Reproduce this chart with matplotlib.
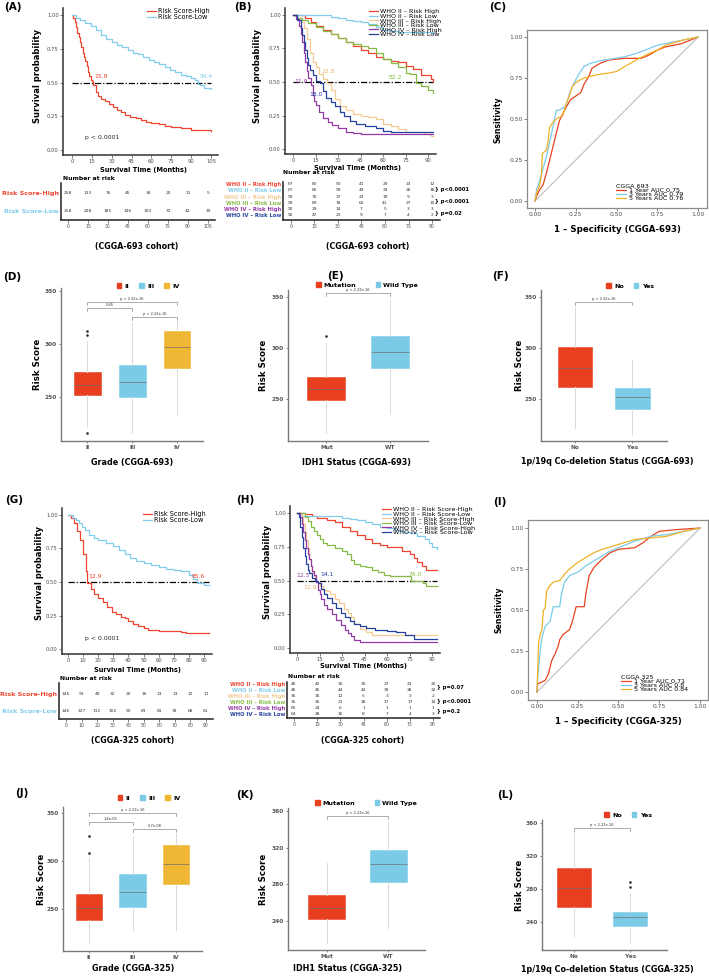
import numpy as np
import matplotlib
matplotlib.use('Agg')
from matplotlib import pyplot as plt
from matplotlib.lines import Line2D
from matplotlib.patches import Patch

plt.rcParams['font.family'] = ['DejaVu Sans']

W, H = 709, 977

RED = '#EE4530'
SKY = '#82CDEC'
TAN = '#F4CB93'
GREEN = '#86BC46'
PURPLE = '#9439A6'
NAVY = '#25409E'
BOX_RED = '#E8401E'
BOX_BLUE = '#7BCBE7'
BOX_YEL = '#EFB733'
ROC_RED = '#E8431F'
ROC_BLUE = '#79CBEA'
ROC_ORANGE = '#F0B126'

# ---------------- (A) KM, CGGA-693
A_HIGH_T = [0, 1, 2, 3, 4, 5, 6, 7, 8, 9, 10, 11, 12, 13, 14, 15, 16, 18, 20, 22, 25, 28, 31, 34, 37, 40,
            44, 48, 52, 56, 60, 66, 70, 75, 82, 88, 90, 96, 105]
A_HIGH_S = [1, 0.98, 0.95, 0.91, 0.87, 0.84, 0.80, 0.76, 0.72, 0.69, 0.66, 0.62, 0.58, 0.55, 0.52, 0.51, 0.48,
            0.43, 0.40, 0.38, 0.36, 0.34, 0.32, 0.30, 0.28, 0.26, 0.245, 0.235, 0.22, 0.21, 0.20, 0.19, 0.18,
            0.17, 0.165, 0.16, 0.15, 0.145, 0.14]
A_LOW_T = [0, 3, 6, 10, 14, 18, 22, 26, 30, 34, 38, 42, 46, 50, 54, 58, 62, 66, 70, 74, 78, 82, 86, 90, 93,
           95, 97, 100, 105]
A_LOW_S = [1, 0.98, 0.96, 0.94, 0.915, 0.89, 0.85, 0.82, 0.80, 0.78, 0.76, 0.74, 0.72, 0.71, 0.69, 0.67,
           0.655, 0.635, 0.615, 0.595, 0.575, 0.555, 0.545, 0.53, 0.515, 0.49, 0.48, 0.46, 0.455]
A_TABLE_X = [0, 15, 30, 45, 60, 75, 90, 105]
A_RISK_HIGH = [258, 133, 76, 45, 34, 20, 11, 5]
A_RISK_LOW = [258, 228, 185, 146, 100, 72, 42, 19]

# ---------------- (B) KM by WHO grade, CGGA-693
B_IIH_T = [0, 5, 8, 12, 15, 20, 25, 30, 35, 40, 45, 50, 55, 60, 65, 70, 75, 80, 85, 92, 93]
B_IIH_S = [1, 1.0, 0.98, 0.95, 0.92, 0.89, 0.86, 0.83, 0.80, 0.77, 0.74, 0.72, 0.69, 0.67, 0.66, 0.65, 0.62,
           0.60, 0.55, 0.52, 0.50]
B_IIL_T = [0, 20, 25, 30, 35, 40, 45, 50, 55, 60, 65, 70, 80, 93]
B_IIL_S = [1, 1, 0.985, 0.975, 0.965, 0.955, 0.945, 0.93, 0.91, 0.89, 0.88, 0.875, 0.87, 0.86]
B_IIIH_T = [0, 3, 5, 7, 9, 11, 13, 15, 17, 20, 22.8, 25, 28, 31, 35, 40, 45, 50, 55, 60, 65, 70, 75, 80, 88,
            92, 93.5]
B_IIIH_S = [1, 0.98, 0.95, 0.90, 0.82, 0.72, 0.65, 0.61, 0.56, 0.52, 0.49, 0.44, 0.37, 0.32, 0.29, 0.26,
            0.245, 0.24, 0.225, 0.19, 0.17, 0.15, 0.13, 0.125, 0.115, 0.10, 0.10]
B_IIIL_T = [0, 3, 6, 10, 15, 20, 25, 30, 35, 40, 45, 50, 55, 60, 65, 70, 75, 78, 82.2, 85, 90, 93]
B_IIIL_S = [1, 0.98, 0.96, 0.94, 0.91, 0.88, 0.86, 0.83, 0.80, 0.78, 0.77, 0.75, 0.72, 0.67, 0.64, 0.61,
            0.57, 0.56, 0.49, 0.47, 0.44, 0.42]
B_IVH_T = [0, 2, 4, 5, 6, 7, 8, 9, 10, 11.9, 13, 14, 15, 17, 20, 23, 26, 30, 35, 40, 45, 93]
B_IVH_S = [1, 0.97, 0.92, 0.86, 0.80, 0.72, 0.65, 0.58, 0.53, 0.48, 0.40, 0.36, 0.33, 0.28, 0.23, 0.20,
           0.18, 0.16, 0.13, 0.12, 0.11, 0.11]
B_IVL_T = [0, 3, 5, 6, 7, 8, 9, 10, 11, 13, 15, 18, 20, 22, 25, 28, 31, 34, 38, 42, 48, 55, 60, 65, 93]
B_IVL_S = [1, 0.96, 0.90, 0.85, 0.80, 0.74, 0.68, 0.63, 0.59, 0.55, 0.51, 0.49, 0.43, 0.38, 0.35, 0.32,
           0.28, 0.25, 0.21, 0.19, 0.17, 0.155, 0.135, 0.13, 0.13]
B_TABLE_X = [0, 15, 30, 45, 60, 75, 90]
B_RISK = [[67, 60, 50, 41, 29, 23, 12],
          [67, 66, 59, 49, 33, 26, 18],
          [99, 70, 37, 23, 19, 9, 3],
          [99, 89, 78, 62, 41, 27, 15],
          [92, 29, 14, 7, 5, 3, 3],
          [92, 47, 23, 9, 7, 4, 2]]
B_LEGEND = ['WHO II \u2013 Risk High', 'WHO II \u2013 Risk Low', 'WHO III \u2013 Risk High',
            'WHO III \u2013 Risk Low', 'WHO IV \u2013 Risk High', 'WHO IV \u2013 Risk Low']
B_PVALS = ['} p<0.0001', '} p<0.0001', '} p=0.02']

# ---------------- (C) ROC, CGGA-693
C1_FPR = [0, 0.01, 0.03, 0.05, 0.07, 0.09, 0.11, 0.13, 0.15, 0.17, 0.19, 0.22, 0.25, 0.28, 0.30, 0.33, 0.35,
          0.40, 0.45, 0.55, 0.65, 0.70, 0.75, 0.80, 0.85, 0.90, 1]
C1_TPR = [0, 0.03, 0.07, 0.10, 0.17, 0.25, 0.33, 0.41, 0.49, 0.53, 0.57, 0.62, 0.64, 0.66, 0.71, 0.76, 0.81,
          0.84, 0.86, 0.87, 0.87, 0.89, 0.92, 0.94, 0.95, 0.96, 1]
C3_FPR = [0, 0.01, 0.03, 0.05, 0.07, 0.09, 0.11, 0.13, 0.16, 0.19, 0.21, 0.23, 0.25, 0.28, 0.30, 0.34, 0.40,
          0.46, 0.55, 0.62, 0.70, 0.75, 0.85, 0.95, 1]
C3_TPR = [0, 0.07, 0.13, 0.20, 0.27, 0.36, 0.45, 0.55, 0.56, 0.58, 0.65, 0.70, 0.74, 0.79, 0.82, 0.84, 0.855,
          0.865, 0.88, 0.90, 0.93, 0.95, 0.97, 0.99, 1]
C5_FPR = [0, 0.01, 0.03, 0.04, 0.045, 0.07, 0.08, 0.09, 0.11, 0.13, 0.17, 0.19, 0.21, 0.23, 0.26, 0.30, 0.38,
          0.45, 0.50, 0.55, 0.62, 0.70, 0.75, 0.80, 0.90, 1]
C5_TPR = [0, 0.05, 0.10, 0.16, 0.29, 0.31, 0.36, 0.45, 0.48, 0.50, 0.52, 0.59, 0.64, 0.70, 0.73, 0.75, 0.77,
          0.78, 0.79, 0.82, 0.86, 0.90, 0.92, 0.95, 0.98, 1]
C_LABELS = ['1 Year AUC 0.75', '3 Years AUC 0.79', '5 Years AUC 0.76']

# ---------------- (D)-(F) boxplots, CGGA-693
D_Q1 = [251.9, 250, 277]
D_MED = [261.3, 264, 297]
D_Q3 = [273.6, 280, 312]
D_LO = [221.7, 216, 233]
D_HI = [303, 320, 322]
D_OUT = [[312, 308.5, 216], [], []]
E_Q1 = [249, 280.4]
E_MED = [259.8, 296]
E_Q3 = [271.6, 311.8]
E_LO = [216.7, 235]
E_HI = [305, 347]
E_OUT = [[311.8], []]
F_Q1 = [261.8, 240.2]
F_MED = [280.4, 252]
F_Q3 = [301, 260.8]
F_LO = [221.6, 214.7]
F_HI = [340, 288]
F_OUT = [[], []]

# ---------------- (G) KM, CGGA-325
G_HIGH_T = [0, 2, 4, 6, 8, 10, 12, 12.9, 15, 17, 20, 23, 26, 29, 32, 35, 38, 40, 43, 46, 50, 53, 60, 75, 78,
            93.5]
G_HIGH_S = [1, 0.98, 0.94, 0.88, 0.81, 0.71, 0.58, 0.49, 0.45, 0.41, 0.38, 0.35, 0.31, 0.28, 0.26, 0.24,
            0.23, 0.21, 0.19, 0.17, 0.16, 0.14, 0.135, 0.13, 0.12, 0.12]
G_LOW_T = [0, 3, 5, 7, 9, 11, 14, 17, 20, 25, 30, 34, 38, 41, 45, 50, 55, 60, 65, 70, 75, 80, 83, 85.6, 90,
           93.5]
G_LOW_S = [1, 0.98, 0.96, 0.94, 0.91, 0.89, 0.85, 0.83, 0.81, 0.79, 0.77, 0.74, 0.71, 0.68, 0.66, 0.64,
           0.625, 0.615, 0.60, 0.59, 0.58, 0.55, 0.52, 0.49, 0.48, 0.48]
G_TABLE_X = [0, 10, 20, 30, 40, 50, 60, 70, 80, 90]
G_RISK_HIGH = [145, 91, 49, 32, 20, 16, 13, 13, 12, 11]
G_RISK_LOW = [146, 127, 112, 102, 90, 83, 81, 78, 68, 61]

# ---------------- (H) KM by WHO grade, CGGA-325
H_IIH_T = [0, 5, 10, 13, 20, 25, 30, 35, 40, 45, 50, 55, 60, 66, 70, 75, 78, 80, 83, 86, 93]
H_IIH_S = [1, 0.99, 0.98, 0.96, 0.95, 0.93, 0.90, 0.87, 0.84, 0.81, 0.78, 0.76, 0.75, 0.75, 0.72, 0.70,
           0.67, 0.64, 0.61, 0.58, 0.58]
H_IIL_T = [0, 3, 20, 25, 30, 35, 40, 45, 50, 55, 60, 65, 70, 75, 80, 85, 88, 90, 93]
H_IIL_S = [1, 0.98, 0.98, 0.975, 0.96, 0.955, 0.945, 0.93, 0.915, 0.90, 0.89, 0.875, 0.86, 0.85, 0.83,
           0.81, 0.78, 0.75, 0.73]
H_IIIH_T = [0, 2, 3, 4, 5, 6, 7, 8, 9, 10, 11, 12.9, 15, 17, 20, 22, 25, 28, 31, 34, 36, 38, 42, 46, 50, 93]
H_IIIH_S = [1, 0.99, 0.97, 0.92, 0.86, 0.80, 0.74, 0.66, 0.61, 0.56, 0.53, 0.49, 0.46, 0.43, 0.42, 0.40,
            0.36, 0.33, 0.29, 0.26, 0.23, 0.18, 0.14, 0.12, 0.10, 0.095]
H_IIIL_T = [0, 4, 5, 7, 9, 11, 13, 15, 17, 20, 25, 30, 33, 36, 38, 42, 46, 50, 54, 58, 62, 76, 84, 86, 93]
H_IIIL_S = [1, 1.0, 0.97, 0.94, 0.90, 0.87, 0.84, 0.81, 0.78, 0.76, 0.74, 0.72, 0.70, 0.65, 0.62, 0.61,
            0.60, 0.58, 0.56, 0.54, 0.53, 0.50, 0.48, 0.46, 0.46]
H_IVH_T = [0, 2, 3, 4, 5, 6, 7, 8, 9, 10, 11, 12.5, 14, 15, 16, 18, 20, 23, 26, 29, 32, 34, 36, 38, 42, 93]
H_IVH_S = [1, 0.97, 0.92, 0.86, 0.80, 0.74, 0.70, 0.66, 0.61, 0.57, 0.54, 0.49, 0.43, 0.40, 0.36, 0.32,
           0.29, 0.25, 0.21, 0.17, 0.13, 0.11, 0.09, 0.06, 0.045, 0.045]
H_IVL_T = [0, 1, 2, 3, 4, 5, 6, 7, 8, 10, 12, 14.1, 16, 18, 20, 23, 26, 29, 32, 35, 38, 42, 46, 52, 60, 66,
           72, 78, 93]
H_IVL_S = [1, 0.97, 0.90, 0.82, 0.74, 0.68, 0.62, 0.58, 0.555, 0.52, 0.50, 0.48, 0.44, 0.40, 0.37, 0.33,
           0.30, 0.26, 0.23, 0.20, 0.18, 0.16, 0.15, 0.13, 0.125, 0.12, 0.10, 0.07, 0.065]
H_TABLE_X = [0, 15, 30, 45, 60, 75, 90]
H_RISK = [[46, 42, 35, 30, 27, 23, 20],
          [46, 45, 44, 42, 39, 38, 32],
          [35, 16, 12, 5, 3, 3, 2],
          [35, 26, 21, 18, 17, 17, 14],
          [65, 24, 6, 1, 1, 1, 1],
          [64, 28, 16, 8, 7, 4, 3]]
H_LEGEND = ['WHO II \u2013 Risk Score-High', 'WHO II \u2013 Risk Score-Low', 'WHO III \u2013 Risk Score-High',
            'WHO III \u2013 Risk Score-Low', 'WHO IV \u2013 Risk Score-High', 'WHO IV \u2013 Risk Score-Low']
H_ROWS = ['WHO II \u2013 Risk High', 'WHO II \u2013 Risk Low', 'WHO III \u2013 Risk High',
          'WHO III \u2013 Risk Low', 'WHO IV \u2013 Risk High', 'WHO IV \u2013 Risk Low']
H_PVALS = ['} p=0.07', '} p<0.0001', '} p=0.2']

# ---------------- (I) ROC, CGGA-325
I1_FPR = [0, 0.005, 0.05, 0.07, 0.09, 0.11, 0.13, 0.14, 0.16, 0.20, 0.22, 0.24, 0.29, 0.30, 0.32, 0.35, 0.40,
          0.45, 0.50, 0.60, 0.65, 0.70, 0.75, 0.85, 1]
I1_TPR = [0, 0.05, 0.07, 0.11, 0.19, 0.23, 0.28, 0.32, 0.35, 0.38, 0.44, 0.52, 0.52, 0.60, 0.71, 0.76, 0.81,
          0.85, 0.87, 0.88, 0.91, 0.95, 0.98, 0.99, 1]
I3_FPR = [0, 0.005, 0.02, 0.03, 0.05, 0.08, 0.10, 0.14, 0.15, 0.17, 0.20, 0.25, 0.30, 0.35, 0.40, 0.45, 0.50,
          0.60, 0.70, 0.80, 0.90, 1]
I3_TPR = [0, 0.09, 0.25, 0.33, 0.40, 0.43, 0.52, 0.52, 0.60, 0.67, 0.71, 0.73, 0.77, 0.80, 0.83, 0.86, 0.88,
          0.92, 0.95, 0.96, 0.98, 1]
I5_FPR = [0, 0.005, 0.01, 0.02, 0.03, 0.04, 0.05, 0.06, 0.08, 0.10, 0.14, 0.17, 0.20, 0.25, 0.30, 0.35, 0.40,
          0.50, 0.60, 0.70, 0.80, 0.90, 1]
I5_TPR = [0, 0.15, 0.30, 0.35, 0.38, 0.50, 0.51, 0.62, 0.65, 0.67, 0.68, 0.72, 0.75, 0.79, 0.82, 0.85, 0.87,
          0.90, 0.93, 0.94, 0.95, 0.98, 1]
I_LABELS = ['1 Year AUC 0.71', '3 Years AUC 0.8', '5 Years AUC 0.84']

# ---------------- (J)-(L) boxplots, CGGA-325
J_Q1 = [239.2, 252.6, 276.3]
J_MED = [251.5, 268, 297]
J_Q3 = [266, 286.6, 316.5]
J_LO = [215.5, 229, 229]
J_HI = [303, 325, 328]
J_OUT = [[325.8, 308], [], []]
K_Q1 = [241.6, 282.2]
K_MED = [253.7, 302]
K_Q3 = [268, 317.3]
K_LO = [215.3, 231.8]
K_HI = [303, 348]
K_OUT = [[], []]
L_Q1 = [258.2, 235.2]
L_MED = [281.2, 246]
L_Q3 = [305.5, 252]
L_LO = [223, 214.5]
L_HI = [350, 275]
L_OUT = [[], [288.5, 282.4]]


fig = plt.figure(figsize=(W / 100, H / 100), dpi=100)


def fx(x):
    return x / W


def fy(y):
    return 1 - y / H


def add_ax(l, t, r, b):
    return fig.add_axes([fx(l), fy(b), (r - l) / W, (b - t) / H])


def ftext(x, y, s, **kw):
    kw.setdefault('ha', 'center')
    kw.setdefault('va', 'center')
    fig.text(fx(x), fy(y), s, **kw)


def place_labels(ax, xlab_pos, ylab_pos):
    ax.xaxis.set_label_coords(fx(xlab_pos[0]), fy(xlab_pos[1]), transform=fig.transFigure)
    ax.yaxis.set_label_coords(fx(ylab_pos[0]), fy(ylab_pos[1]), transform=fig.transFigure)
    ax.xaxis.label.set_va('center')
    ax.yaxis.label.set_va('center')


def km_axes(rect, xlim, xticks, xend, curves, colors, xlab_pos, ylab_pos):
    ax = add_ax(*rect)
    for (t, s), c in zip(curves, colors):
        ax.step(t, s, where='post', color=c, lw=0.9)
    ax.set_xlim(*xlim)
    ax.set_ylim(-0.037, 1.052)
    ax.set_xticks(xticks)
    ax.set_yticks([0, 0.25, 0.5, 0.75, 1.0], ['0.00', '0.25', '0.50', '0.75', '1.00'])
    for side in ['top', 'right']:
        ax.spines[side].set_visible(False)
    for side in ['left', 'bottom']:
        ax.spines[side].set_linewidth(1.1)
        ax.spines[side].set_color('#333333')
    ax.tick_params(length=2, width=0.5, colors='#4D4D4D', labelsize=3.8, pad=1)
    ax.set_xlabel('Survival Time (Months)', fontsize=4.8, fontweight='bold')
    ax.set_ylabel('Survival probability', fontsize=6, fontweight='bold')
    place_labels(ax, xlab_pos, ylab_pos)
    ax.plot([0, xend], [0.5, 0.5], color='black', lw=0.9, ls=(0, (5, 1.5, 1, 1.5)), zorder=1)
    return ax


def km_legend(ax, colors, labels, x, y, size, spacing):
    handles = [Line2D([], [], color=c, lw=0.9) for c in colors]
    ax.legend(handles, labels, loc='upper left', bbox_to_anchor=(fx(x), fy(y)),
              bbox_transform=fig.transFigure, frameon=False, fontsize=size, handlelength=1.4,
              handletextpad=0.3, labelspacing=spacing, borderpad=0, borderaxespad=0)


def risk_table(rect, xlim, ylim, xticks, rows, labels, colors, label_size):
    ax = add_ax(*rect)
    for i, row in enumerate(rows):
        for t, n in zip(xticks, row):
            ax.text(t, i + 1, str(n), ha='center', va='center', fontsize=3.2, color='#333333')
    ax.set_xlim(*xlim)
    ax.set_ylim(*ylim)
    ax.set_xticks(xticks)
    ax.set_yticks(np.arange(1, len(rows) + 1), labels)
    for tl, c in zip(ax.get_yticklabels(), colors):
        tl.set_color(c)
        tl.set_fontweight('bold')
        tl.set_fontsize(label_size)
    ax.tick_params(axis='y', length=0, pad=1.5)
    ax.tick_params(axis='x', length=2, width=0.5, colors='#4D4D4D', labelsize=3.3, pad=1)
    for side in ['top', 'right']:
        ax.spines[side].set_visible(False)
    for side in ['left', 'bottom']:
        ax.spines[side].set_linewidth(1.1)
        ax.spines[side].set_color('#222222')
    return ax


def roc_axes(rect, xlim, ylim, curves, colors, labels, title, leg_xy, xlab, xlab_pos, ylab_pos):
    ax = add_ax(*rect)
    ax.plot([0, 1], [0, 1], color='#BDBDBD', lw=0.8, zorder=1)
    for (f, t), c, lab in zip(curves, colors, labels):
        ax.plot(f, t, color=c, lw=0.9, label=lab)
    ax.set_xlim(*xlim)
    ax.set_ylim(*ylim)
    ticks = [0, 0.25, 0.5, 0.75, 1.0]
    tl = ['0.00', '0.25', '0.50', '0.75', '1.00']
    ax.set_xticks(ticks, tl)
    ax.set_yticks(ticks, tl)
    for side in ax.spines.values():
        side.set_color('#8C8C8C')
        side.set_linewidth(0.9)
    ax.tick_params(length=2, width=0.5, colors='#4D4D4D', labelsize=4.3, pad=1)
    ax.set_xlabel(xlab, fontsize=6.2, fontweight='bold')
    ax.set_ylabel('Sensitivity', fontsize=5.6, fontweight='bold')
    place_labels(ax, xlab_pos, ylab_pos)
    ax.legend(title=title, loc='lower left', bbox_to_anchor=(fx(leg_xy[0]), fy(leg_xy[1])),
              bbox_transform=fig.transFigure, frameon=False, fontsize=4.6, title_fontsize=4.6,
              handlelength=1.6, handletextpad=0.4, labelspacing=-0.25, borderpad=0,
              borderaxespad=0, alignment='left')
    return ax


def box_axes(rect, xlim, ylim, yticks, q1, med, q3, lo, hi, out, colors, xticklabels,
             xlab, xlab_pos, ylab_x, brackets, drop):
    ax = add_ax(*rect)
    stats = []
    for a, m, b, w0, w1, o in zip(q1, med, q3, lo, hi, out):
        stats.append(dict(q1=a, med=m, q3=b, whislo=w0, whishi=w1, fliers=o))
    bp = ax.bxp(stats, positions=np.arange(1, len(stats) + 1), widths=0.6, patch_artist=True,
                showcaps=False,
                whiskerprops=dict(color='#D9D9D9', lw=0.7),
                medianprops=dict(color='#6E6E6E', lw=0.6, alpha=0.8),
                flierprops=dict(marker='o', markersize=0.9, markerfacecolor='#333333',
                                markeredgecolor='#333333'))
    for patch, c in zip(bp['boxes'], colors):
        patch.set_facecolor(c)
        patch.set_edgecolor(c)
        patch.set_linewidth(0.4)
    ax.set_xlim(*xlim)
    ax.set_ylim(*ylim)
    ax.set_yticks(yticks)
    ax.set_xticks(np.arange(1, len(stats) + 1), xticklabels)
    for lab in ax.get_xticklabels() + ax.get_yticklabels():
        lab.set_fontweight('bold')
    ax.tick_params(length=1.5, width=0.5, colors='#555555', labelsize=4.2, pad=1.5)
    for side in ['top', 'right']:
        ax.spines[side].set_visible(False)
    for side in ['left', 'bottom']:
        ax.spines[side].set_linewidth(1.0)
        ax.spines[side].set_color('#7A7A7A')
    ax.set_xlabel(xlab, fontsize=5.8, fontweight='bold')
    ax.set_ylabel('Risk Score', fontsize=6.2, fontweight='bold')
    place_labels(ax, xlab_pos, (ylab_x, (rect[1] + rect[3]) / 2))
    for i, j, y, lab in brackets:
        ax.plot([i, i, j, j], [y - drop, y, y, y - drop], color='#8C8C8C', lw=0.5, clip_on=False)
        ax.text((i + j) / 2, y + drop * 0.25, lab, ha='center', va='bottom', fontsize=2.6,
                color='#333333', clip_on=False)
    return ax


def box_legend(labels, colors, cx, cy, colsp):
    handles = [Patch(facecolor=c, edgecolor=c) for c in colors]
    fig.legend(handles, labels, loc='center', bbox_to_anchor=(fx(cx), fy(cy)), ncol=len(labels),
               frameon=False, prop=dict(size=4.6, weight='bold'), handlelength=0.7,
               handleheight=0.7, handletextpad=0.5, columnspacing=colsp, borderpad=0)


# ================= row 1 =================
axA = km_axes((63, 8, 218, 155), (-6.8, 110.3), A_TABLE_X, 105,
              [(A_HIGH_T, A_HIGH_S), (A_LOW_T, A_LOW_S)], [RED, SKY], (143, 170), (37, 76))
km_legend(axA, [RED, SKY], ['Risk Score-High', 'Risk Score-Low'], 147, 8, 4.7, 0.05)
axA.text(21.7, 0.545, '15.8', color=RED, fontsize=4.3, ha='center', va='center')
axA.text(101.2, 0.545, '94.4', color=SKY, fontsize=4.3, ha='center', va='center')
axA.text(22.7, 0.096, 'p < 0.0001', fontsize=4.4, ha='center', va='center', color='#222222')
risk_table((61, 183, 215, 220), (-5.25, 110.25), (2.5, 0.444), A_TABLE_X,
           [A_RISK_HIGH, A_RISK_LOW], ['Risk Score-High', 'Risk Score-Low'], [RED, SKY], 4.6)
ftext(63, 178, 'Number at risk', ha='left', fontsize=4.4, fontweight='bold')
ftext(137, 247, '(CGGA-693 cohort)', fontsize=5.7, fontweight='bold')

b_colors = [RED, SKY, TAN, GREEN, PURPLE, NAVY]
axB = km_axes((285, 8, 436, 154), (-5.33, 95.3), B_TABLE_X, 93,
              [(B_IIH_T, B_IIH_S), (B_IIL_T, B_IIL_S), (B_IIIH_T, B_IIIH_S), (B_IIIL_T, B_IIIL_S),
               (B_IVH_T, B_IVH_S), (B_IVL_T, B_IVL_S)], b_colors, (358, 168), (258, 76))
km_legend(axB, b_colors, B_LEGEND, 369, 9, 4.6, -0.15)
axB.text(5.1, 0.507, '11.9', color=PURPLE, fontsize=4.3, ha='center', va='center')
axB.text(23.7, 0.575, '22.8', color='#E9B477', fontsize=4.3, ha='center', va='center')
axB.text(15.0, 0.408, '18.0', color=NAVY, fontsize=4.3, ha='center', va='center')
axB.text(68.3, 0.532, '82.2', color=GREEN, fontsize=4.3, ha='center', va='center')
risk_table((283, 182, 440, 220), (-5.1, 95.1), (6.8, 0.63), B_TABLE_X, B_RISK, B_LEGEND, b_colors, 3.8)
ftext(283, 173, 'Number at risk', ha='left', fontsize=4.4, fontweight='bold')
for yy, lab in zip([190, 202, 214], B_PVALS):
    ftext(435, yy, lab, ha='left', fontsize=3.8, fontweight='bold')
ftext(368, 247, '(CGGA-693 cohort)', fontsize=5.7, fontweight='bold')

roc_axes((527, 30, 707, 208), (-0.049, 1.055), (-0.043, 1.043),
         [(C1_FPR, C1_TPR), (C3_FPR, C3_TPR), (C5_FPR, C5_TPR)], [ROC_RED, ROC_BLUE, ROC_ORANGE],
         C_LABELS, 'CGGA 693', (616, 201), '1 \u2013 Specificity (CGGA-693)', (617, 230), (498, 120))

# ================= row 2 =================
box_axes((61, 288, 203, 441), (0.41, 3.58), (208.5, 352.8), [250, 300, 350],
         D_Q1, D_MED, D_Q3, D_LO, D_HI, D_OUT, [BOX_RED, BOX_BLUE, BOX_YEL], ['II', 'III', 'IV'],
         'Grade (CGGA-693)', (132, 462), 38,
         [(1, 3, 339.6, 'p < 2.22e-16'), (1, 2, 334, '0.45'), (2, 3, 325.5, 'p < 2.22e-16')], 3)
box_legend(['II', 'III', 'IV'], [BOX_RED, BOX_BLUE, BOX_YEL], 148, 286, 1.6)

box_axes((288, 290, 428, 441), (0.394, 2.6), (208.8, 356.9), [250, 300, 350],
         E_Q1, E_MED, E_Q3, E_LO, E_HI, E_OUT, [BOX_RED, BOX_BLUE], ['Mut', 'WT'],
         'IDH1 Status (CGGA-693)', (357, 462), 263, [(1, 2, 353.9, 'p < 2.22e-16')], 3)
box_legend(['Mutation', 'Wild Type'], [BOX_RED, BOX_BLUE], 367, 285, 3.0)

box_axes((541, 290, 667, 441), (0.41, 2.6), (208.8, 356.9), [250, 300, 350],
         F_Q1, F_MED, F_Q3, F_LO, F_HI, F_OUT, [BOX_RED, BOX_BLUE], ['No', 'Yes'],
         '1p/19q Co-deletion Status (CGGA-693)', (607, 462), 519, [(1, 2, 345, 'p < 2.22e-16')], 3)
box_legend(['No', 'Yes'], [BOX_RED, BOX_BLUE], 630, 286, 1.6)

# ================= row 3 =================
axG = km_axes((62, 508, 212, 654), (-3.97, 95.3), G_TABLE_X, 93.5,
              [(G_HIGH_T, G_HIGH_S), (G_LOW_T, G_LOW_S)], [RED, SKY], (137, 670), (39, 573))
km_legend(axG, [RED, SKY], ['Risk Score-High', 'Risk Score-Low'], 143, 511, 4.7, 0.05)
axG.text(17.9, 0.54, '12.9', color=RED, fontsize=4.3, ha='center', va='center')
axG.text(86.0, 0.54, '85.6', color=RED, fontsize=4.3, ha='center', va='center')
axG.text(22.5, 0.082, 'p < 0.0001', fontsize=4.4, ha='center', va='center', color='#222222')
risk_table((59, 683, 213, 719), (-4.5, 94.5), (2.47, 0.353), G_TABLE_X,
           [G_RISK_HIGH, G_RISK_LOW], ['Risk Score-High', 'Risk Score-Low'], [RED, SKY], 4.6)
ftext(60, 678, 'Number at risk', ha='left', fontsize=4.4, fontweight='bold')
ftext(133, 740, '(CGGA-325 cohort)', fontsize=5.7, fontweight='bold')

axH = km_axes((290, 506, 440, 653), (-4.67, 95.3), H_TABLE_X, 93,
              [(H_IIH_T, H_IIH_S), (H_IIL_T, H_IIL_S), (H_IIIH_T, H_IIIH_S), (H_IIIL_T, H_IIIL_S),
               (H_IVH_T, H_IVH_S), (H_IVL_T, H_IVL_S)], b_colors, (363, 666), (267, 572))
km_legend(axH, b_colors, H_LEGEND, 382, 507, 4.6, -0.15)
axH.text(4.2, 0.54, '12.5', color=PURPLE, fontsize=4.3, ha='center', va='center')
axH.text(19.8, 0.548, '14.1', color=NAVY, fontsize=4.3, ha='center', va='center')
axH.text(8.7, 0.45, '12.9', color='#E9B477', fontsize=4.3, ha='center', va='center')
axH.text(78.7, 0.546, '76.0', color=GREEN, fontsize=4.3, ha='center', va='center')
risk_table((287, 682, 440, 718), (-4.53, 94.5), (6.62, 0.62), H_TABLE_X, H_RISK, H_ROWS,
           b_colors, 3.8)
ftext(288, 676, 'Number at risk', ha='left', fontsize=4.4, fontweight='bold')
for yy, lab in zip([688, 701, 712], H_PVALS):
    ftext(437, yy, lab, ha='left', fontsize=3.8, fontweight='bold')
ftext(363, 740, '(CGGA-325 cohort)', fontsize=5.7, fontweight='bold')

roc_axes((528, 520, 708, 700), (-0.055, 1.049), (-0.049, 1.049),
         [(I1_FPR, I1_TPR), (I3_FPR, I3_TPR), (I5_FPR, I5_TPR)], [ROC_RED, ROC_BLUE, ROC_ORANGE],
         I_LABELS, 'CGGA 325', (621, 692), '1 \u2013 Specificity (CGGA-325)', (618, 722), (499, 610))

# ================= row 4 =================
box_axes((63, 807, 202, 951), (0.40, 3.6), (207.2, 355.7), [250, 300, 350],
         J_Q1, J_MED, J_Q3, J_LO, J_HI, J_OUT, [BOX_RED, BOX_BLUE, BOX_YEL], ['II', 'III', 'IV'],
         'Grade (CGGA-325)', (133, 969), 42,
         [(1, 3, 349.5, 'p < 2.22e-16'), (1, 2, 340, '1.4e-05'), (2, 3, 333, '5.7e-08')], 3)
box_legend(['II', 'III', 'IV'], [BOX_RED, BOX_BLUE, BOX_YEL], 149, 798, 1.6)

box_axes((288, 808, 425, 950), (0.374, 2.6), (207.7, 363.3), [240, 280, 320, 360],
         K_Q1, K_MED, K_Q3, K_LO, K_HI, K_OUT, [BOX_RED, BOX_BLUE], ['Mut', 'WT'],
         'IDH1 Status (CGGA-325)', (348, 969), 263, [(1, 2, 354.5, 'p < 2.22e-16')], 3.3)
box_legend(['Mutation', 'Wild Type'], [BOX_RED, BOX_BLUE], 366, 803, 3.0)

box_axes((542, 820, 667, 950), (0.434, 2.65), (206, 363.6), [240, 280, 320, 360],
         L_Q1, L_MED, L_Q3, L_LO, L_HI, L_OUT, [BOX_RED, BOX_BLUE], ['No', 'Yes'],
         '1p/19q Co-deletion Status (CGGA-325)', (607, 969), 520, [(1, 2, 354, 'p < 2.22e-16')], 3.6)
box_legend(['No', 'Yes'], [BOX_RED, BOX_BLUE], 628, 815, 1.6)

# panel tags
for tag, x, y in [('(A)', 13, 7), ('(B)', 243, 7), ('(C)', 498, 7), ('(D)', 12, 277), ('(E)', 335, 276),
                  ('(F)', 500, 276), ('(G)', 14, 500), ('(H)', 245, 500), ('(I)', 500, 502),
                  ('(J)', 22, 793), ('(K)', 245, 795), ('(L)', 505, 795)]:
    ftext(x, y, tag, fontsize=7.5, fontweight='bold')

fig.savefig('out.png', dpi=100)
